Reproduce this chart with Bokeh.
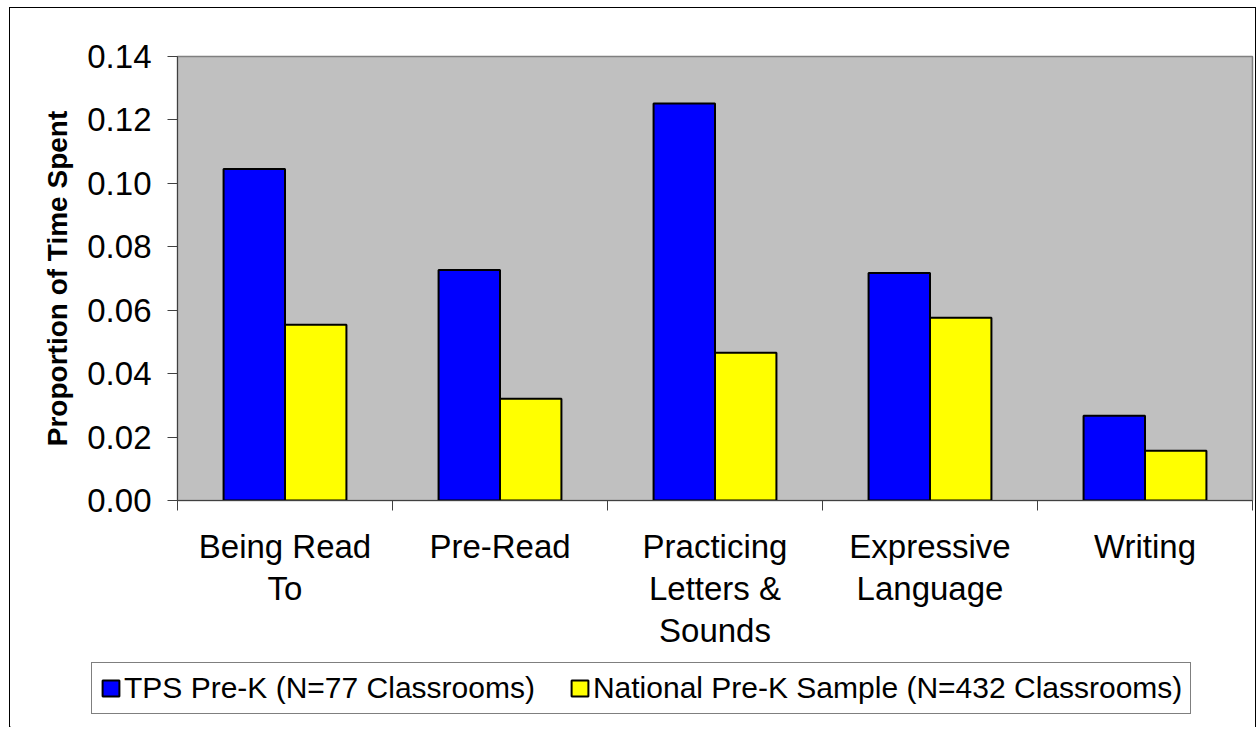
import numpy as np
from bokeh.plotting import figure
from bokeh.models import (ColumnDataSource, FixedTicker, NumeralTickFormatter,
                          Range1d, Legend, LegendItem)
from bokeh.transform import dodge
from bokeh.embed import file_html
from bokeh.resources import INLINE

# ---- data ----
categories = ["Being Read\nTo", "Pre-Read", "Practicing\nLetters &\nSounds",
              "Expressive\nLanguage", "Writing"]
tps_values = [0.1045, 0.0727, 0.1252, 0.0717, 0.0267]
national_values = [0.0554, 0.0321, 0.0466, 0.0576, 0.0157]
y_ticks = [0.00, 0.02, 0.04, 0.06, 0.08, 0.10, 0.12, 0.14]
series_names = ["TPS Pre-K (N=77 Classrooms)",
                "National Pre-K Sample (N=432 Classrooms)"]
series_colors = ["#0000FF", "#FFFF00"]
y_title = "Proportion of Time Spent"

FONT = "Liberation Sans"
n = len(categories)
centers = [i + 0.5 for i in range(n)]
bounds = list(range(n + 1))
bw = 1 / 3.5

src = ColumnDataSource(dict(x=centers, tps=tps_values, nat=national_values))

p = figure(width=1247, height=650, x_range=Range1d(0, n), y_range=Range1d(0, 0.14),
           output_backend="svg", toolbar_location=None,
           background_fill_color="#C0C0C0", border_fill_color="white",
           min_border_left=167, min_border_right=5, min_border_top=48,
           min_border_bottom=158)
p.styles = {"border": "1px solid black", "border-bottom": "none",
            "margin-left": "9px", "margin-top": "7px"}
p.xgrid.visible = False
p.ygrid.visible = False
p.outline_line_color = "#808080"
p.outline_line_width = 1.5

r1 = p.vbar(x=dodge("x", -bw / 2), top="tps", width=bw, source=src,
            fill_color=series_colors[0], line_color="black", line_width=2)
r2 = p.vbar(x=dodge("x", bw / 2), top="nat", width=bw, source=src,
            fill_color=series_colors[1], line_color="black", line_width=2)

# x axis
xa = p.xaxis[0]
xa.ticker = FixedTicker(ticks=centers, minor_ticks=bounds)
xa.major_label_overrides = {float(c): lab for c, lab in zip(centers, categories)}
xa.major_tick_line_color = None
xa.major_tick_out = 0
xa.major_tick_in = 0
xa.minor_tick_in = 0
xa.minor_tick_out = 10
xa.minor_tick_line_color = "#404040"
xa.axis_line_color = "#404040"
xa.major_label_text_font = FONT
xa.major_label_text_font_size = "33px"
xa.major_label_text_line_height = 1.14
xa.major_label_text_color = "black"
xa.major_label_standoff = 17

# y axis
ya = p.yaxis[0]
ya.ticker = FixedTicker(ticks=y_ticks)
ya.formatter = NumeralTickFormatter(format="0.00")
ya.major_tick_in = 0
ya.major_tick_out = 10
ya.minor_tick_line_color = None
ya.major_tick_line_color = "#404040"
ya.axis_line_color = "#404040"
ya.major_label_text_font = FONT
ya.major_label_text_font_size = "33px"
ya.major_label_text_color = "black"
ya.major_label_standoff = 16
ya.axis_label = y_title
ya.axis_label_text_font = FONT
ya.axis_label_text_font_size = "28px"
ya.axis_label_text_font_style = "bold"
ya.axis_label_text_color = "black"
ya.axis_label_standoff = 11

# ---- legend strip: separate root so the legend can sit left of the plot frame ----
lf = figure(width=1247, height=70, x_range=Range1d(10, 11), y_range=Range1d(10, 11),
            output_backend="svg", toolbar_location=None,
            min_border=0, min_border_left=0, min_border_right=0,
            min_border_top=0, min_border_bottom=0,
            border_fill_color="white", background_fill_color="white")
lf.styles = {"border-left": "1px solid black", "border-right": "1px solid black",
             "margin-left": "9px"}
lf.axis.visible = False
lf.grid.visible = False
lf.outline_line_color = None
lr1 = lf.vbar(x=[0], top=[0], width=1, fill_color=series_colors[0],
              line_color="black", line_width=2)
lr2 = lf.vbar(x=[0], top=[0], width=1, fill_color=series_colors[1],
              line_color="black", line_width=2)
legend = Legend(items=[LegendItem(label=series_names[0], renderers=[lr1]),
                       LegendItem(label=series_names[1], renderers=[lr2])],
                orientation="horizontal", location=(81, 13),
                border_line_color="black", border_line_width=1,
                background_fill_color="white", background_fill_alpha=1,
                label_text_font=FONT, label_text_font_size="30px",
                label_text_color="black",
                glyph_width=21, glyph_height=20, label_standoff=3,
                spacing=34, padding=8, margin=0)
lf.add_layout(legend)

open("out.html", "w").write(file_html([p, lf], INLINE))
